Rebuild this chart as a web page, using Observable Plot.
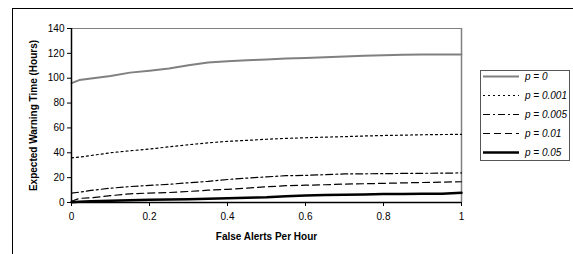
<!DOCTYPE html>
<html><head><meta charset="utf-8">
<script src="https://cdn.jsdelivr.net/npm/d3@7"></script>
<script src="https://cdn.jsdelivr.net/npm/@observablehq/plot@0.6"></script>
<style>
body{margin:0;background:#fff;overflow:hidden;}
#wrap{position:relative;width:573px;height:254px;font-family:"Liberation Sans",Arial,sans-serif;overflow:hidden;}
#frame{position:absolute;left:12px;top:8px;width:700px;height:400px;border:1.5px solid #000;box-sizing:border-box;}
#legend{position:absolute;left:480px;top:70px;width:90px;height:91px;border:1px solid #555;background:#fff;box-sizing:border-box;}
#chart{position:absolute;left:0;top:0;}
</style>
</head><body>
<div id="wrap"><div id="frame"></div><div id="chart"></div><div id="legend"></div></div>
<script>
const xAlerts = [0, 0.02, 0.05, 0.1, 0.15, 0.2, 0.25, 0.3, 0.35, 0.4, 0.45, 0.5, 0.55, 0.6, 0.65, 0.7, 0.75, 0.8, 0.85, 0.9, 0.95, 1];
const seriesNames = ["p = 0", "p = 0.001", "p = 0.005", "p = 0.01", "p = 0.05"];
const p0     = [96, 98.5, 99.8, 101.7, 104.5, 106, 107.8, 110.4, 112.7, 113.6, 114.5, 115.1, 115.8, 116.3, 116.9, 117.4, 118, 118.4, 118.9, 119, 119, 119];
const p0001  = [35.9, 36.5, 37.8, 40, 41.6, 43, 44.8, 46.5, 48, 49.2, 50, 50.9, 51.6, 52.1, 52.6, 53, 53.5, 53.9, 54.2, 54.5, 54.7, 54.8];
const p0005  = [7.6, 8.3, 9.7, 11.5, 12.8, 13.8, 14.6, 15.9, 17, 18.5, 19.6, 20.6, 21.6, 21.8, 22.4, 23, 23.1, 23.2, 23.4, 23.5, 23.6, 23.8];
const p001   = [1, 3.3, 3.8, 5.5, 7, 7.6, 8, 8.9, 9.9, 10.6, 11.6, 12.6, 13.5, 13.9, 14.3, 14.8, 15.1, 15.4, 15.8, 16.1, 16.4, 16.7];
const p005   = [0.3, 0.6, 1, 1.4, 1.9, 2.3, 2.5, 2.7, 3, 3.5, 3.8, 4.2, 5, 5.6, 6, 6.2, 6.5, 6.8, 6.9, 7, 7.1, 7.8];
const xTicks = [0, 0.2, 0.4, 0.6, 0.8, 1];
const yTicks = [0, 20, 40, 60, 80, 100, 120, 140];
const xTitle = "False Alerts Per Hour";
const yTitle = "Expected Warning Time (Hours)";

const values = [p0, p0001, p0005, p001, p005];
const styles = [
  {stroke: "#808080", strokeWidth: 2, dash: null},
  {stroke: "#000", strokeWidth: 1.2, dash: "2,3"},
  {stroke: "#000", strokeWidth: 1.2, dash: "7,3,2,3"},
  {stroke: "#000", strokeWidth: 1.2, dash: "7,4"},
  {stroke: "#000", strokeWidth: 2.5, dash: null}
];

const lineMarks = values.map((vals, s) => {
  const data = xAlerts.map((x, i) => ({x, y: vals[i]}));
  const st = styles[s];
  return Plot.line(data, {x: "x", y: "y", stroke: st.stroke, strokeWidth: st.strokeWidth, strokeDasharray: st.dash || undefined});
});

const plot = Plot.plot({
  width: 573, height: 254,
  marginLeft: 71, marginRight: 112, marginTop: 28, marginBottom: 52,
  style: {fontFamily: "'Liberation Sans', Arial, sans-serif", fontSize: "10px", color: "#000", background: "transparent"},
  x: {domain: [0, 1]},
  y: {domain: [0, 140]},
  marks: [
    Plot.ruleY([140], {stroke: "#808080", strokeWidth: 1}),
    Plot.ruleX([1], {stroke: "#808080", strokeWidth: 1.5}),
    ...lineMarks,
    Plot.ruleX([0], {stroke: "#000", strokeWidth: 1.5}),
    Plot.ruleY([0], {stroke: "#000", strokeWidth: 1.5}),
    Plot.axisX({ticks: xTicks, tickSize: 4, tickPadding: 6, label: null, tickFormat: d3.format("")}),
    Plot.axisY({ticks: yTicks, tickSize: 4, tickPadding: 3, label: null}),
    Plot.text([xTitle], {text: d => d, frameAnchor: "bottom", lineAnchor: "middle", dy: 34, fontWeight: "bold"}),
    Plot.text([yTitle], {text: d => d, frameAnchor: "left", textAnchor: "middle", lineAnchor: "middle", rotate: -90, dx: -38, fontWeight: "bold"})
  ]
});
document.getElementById("chart").appendChild(plot);

// legend
const lg = d3.select("#legend").append("svg").attr("width", 88).attr("height", 89)
  .style("font-family", "'Liberation Sans', Arial, sans-serif").style("font-size", "10px");
seriesNames.forEach((name, i) => {
  const y = 5.5 + i * 19;
  const st = styles[i];
  lg.append("line").attr("x1", 2).attr("x2", 38).attr("y1", y).attr("y2", y)
    .attr("stroke", st.stroke).attr("stroke-width", st.strokeWidth)
    .attr("stroke-dasharray", st.dash);
  lg.append("text").attr("x", 44).attr("y", y).attr("dy", "0.35em")
    .attr("font-style", "italic").text(name);
});
</script>
</body></html>
